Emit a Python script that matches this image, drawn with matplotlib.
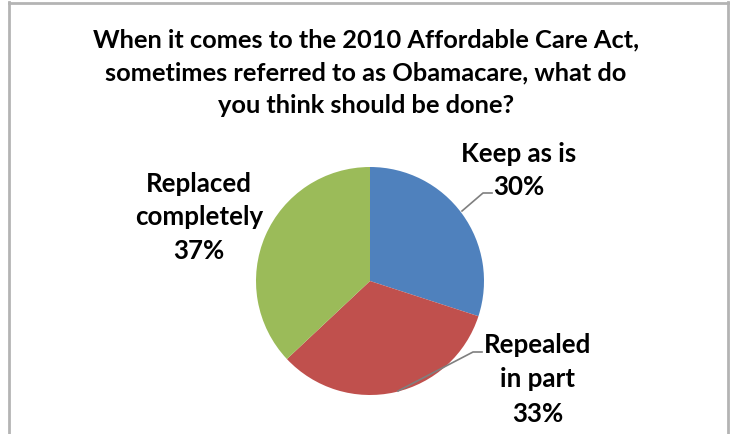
import matplotlib
matplotlib.use("Agg")
import matplotlib.pyplot as plt
import numpy as np
from matplotlib.lines import Line2D

title_lines = ["When it comes to the 2010 Affordable Care Act,",
               "sometimes referred to as Obamacare, what do",
               "you think should be done?"]
categories = ["Keep as is", "Repealed\nin part", "Replaced\ncompletely"]
values = [30, 33, 37]
colors = ["#4F81BD", "#C0504D", "#9BBB59"]

W, H = 731, 435
DPI = 100
FONT = "Lato"
fig = plt.figure(figsize=(W / DPI, H / DPI), dpi=DPI)
fig.patch.set_facecolor("white")

def px(x, y):
    return x / W, 1 - y / H

# frame
frame_col = "#B4B4B4"
for xs, ys in [([9, 9], [3, 440]), ([9, 728], [3.5, 3.5]), ([728, 728], [3, 440])]:
    fig.add_artist(Line2D([x / W for x in xs], [1 - y / H for y in ys],
                          color=frame_col, lw=2, transform=fig.transFigure))

# pie
cx, cy, r = 370, 282, 114
ax = fig.add_axes([(cx - r) / W, (H - cy - r) / H, 2 * r / W, 2 * r / H])
ax.pie(values, colors=colors, startangle=90, counterclock=False, radius=1,
       wedgeprops=dict(linewidth=0))
ax.set_xlim(-1, 1)
ax.set_ylim(-1, 1)
ax.set_aspect("auto")
ax.axis("off")

renderer = fig.canvas.get_renderer()

def fit_size(text, target_w, size0=18):
    t = fig.text(0, 0, text, fontsize=size0, fontweight="bold", family=FONT)
    w = t.get_window_extent(renderer).width
    t.remove()
    return size0 * target_w / w

title_fs = fit_size(title_lines[0], 547)
label_fs = fit_size("Repealed", 107)

title_base = [47, 80, 113]
for line, yb in zip(title_lines, title_base):
    fig.text(366 / W, 1 - yb / H, line, ha="center", va="baseline",
             fontsize=title_fs, fontweight="bold", family=FONT, color="#000000")

# labels: (x center, baselines)
label_pos = [
    (519, [162, 195]),
    (538, [353, 387, 422]),
    (199, [192, 225, 259]),
]
for cat, v, (xc, bases) in zip(categories, values, label_pos):
    lines = cat.split("\n") + [f"{v}%"]
    for ln, yb in zip(lines, bases):
        fig.text(xc / W, 1 - yb / H, ln, ha="center", va="baseline",
                 fontsize=label_fs, fontweight="bold", family=FONT, color="#000000")

# leader lines
leaders = [
    [(462, 212), (483, 194), (492, 194)],
    [(398, 392), (473, 353), (482, 353)],
]
for pts in leaders:
    fig.add_artist(Line2D([p[0] / W for p in pts], [1 - p[1] / H for p in pts],
                          color="#7F7F7F", lw=1.2, transform=fig.transFigure))

fig.savefig("out.png", dpi=DPI, facecolor="white")
